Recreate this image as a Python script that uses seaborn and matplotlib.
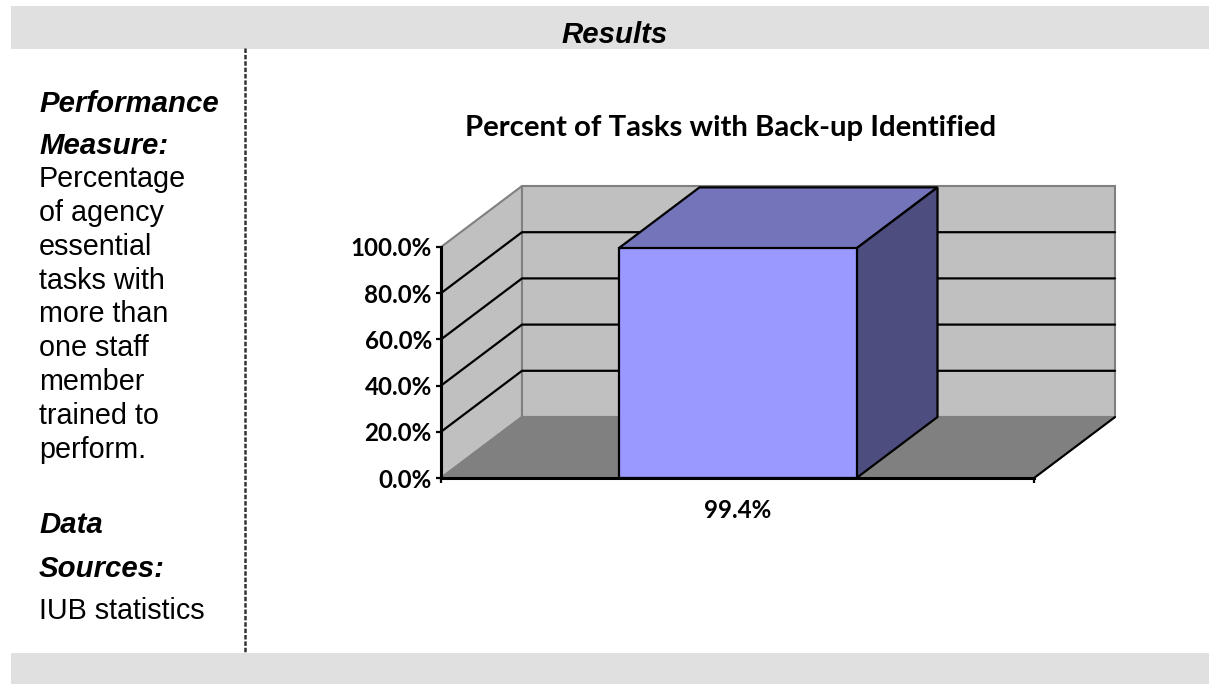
import numpy as np
import pandas as pd
import seaborn as sns
import matplotlib.pyplot as plt
from matplotlib.patches import Polygon, Rectangle
from matplotlib.lines import Line2D
from matplotlib.ticker import FixedLocator

# chart data
CATEGORIES = ["99.4%"]
VALUES = [99.4]
Y_TICKS = [0, 20, 40, 60, 80, 100]
CHART_TITLE = "Percent of Tasks with Back-up Identified"

# left column text: (text, baseline y in px, heading?)
SIDE_TEXT = [
    ("Performance", 112, True),
    ("Measure:", 154, True),
    ("Percentage", 187, False),
    ("of agency", 221, False),
    ("essential", 255, False),
    ("tasks with", 289, False),
    ("more than", 322, False),
    ("one staff", 356, False),
    ("member", 390, False),
    ("trained to", 424, False),
    ("perform.", 458, False),
    ("Data", 533, True),
    ("Sources:", 577, True),
    ("IUB statistics", 619, False),
]

W, H = 1209, 684
BAND = "#e0e0e0"
WALL = "#c0c0c0"
FLOOR = "#808080"
BAR_FRONT = "#9999ff"
BAR_TOP = "#7474ba"
BAR_SIDE = "#4d4d80"

# fake 3D depth of the Excel-style chart, in data units
DEPTH_X = 81 / 593
DEPTH_Y = 61 / 231 * 100

sns.set_theme(style="white")
plt.rcParams["font.family"] = ["Liberation Sans", "DejaVu Sans"]

fig = plt.figure(figsize=(W / 100, H / 100), dpi=100, facecolor="white")

# page furniture: header and footer bands, dashed divider
fig.add_artist(Rectangle((11 / W, 1 - 49 / H), 1 - 11 / W, 43 / H, transform=fig.transFigure,
                         fc=BAND, ec="none"))
fig.add_artist(Rectangle((11 / W, 0), 1 - 11 / W, 31 / H, transform=fig.transFigure,
                         fc=BAND, ec="none"))
fig.add_artist(Line2D([245 / W, 245 / W], [1 - 48 / H, 1 - 653 / H], transform=fig.transFigure,
                      color="#333333", lw=1.8, dashes=(1.8, 0.75)))

fig.text(615 / W, 1 - 43 / H, "Results", ha="center", va="baseline", fontsize=21.2,
         fontweight="bold", fontstyle="italic", color="black")

for txt, y, heading in SIDE_TEXT:
    fig.text(39 / W, 1 - y / H, txt, ha="left", va="baseline", color="black",
             fontsize=21.2 if heading else 20.7,
             fontweight="bold" if heading else "normal",
             fontstyle="italic" if heading else "normal")

fig.text(730.5 / W, 1 - 136 / H, CHART_TITLE, ha="center", va="baseline", fontsize=21.2,
         fontweight="bold", family=["Lato", "DejaVu Sans"], color="black")

# front plane of the plot
ax = fig.add_axes([441 / W, 1 - 478 / H, 593 / W, 231 / H])
df = pd.DataFrame({"label": CATEGORIES, "value": VALUES})
sns.barplot(data=df, x="label", y="value", ax=ax, color=BAR_FRONT, saturation=1, width=238 / 593,
            edgecolor="black", linewidth=1.6, zorder=5)
ax.set_xlim(-0.5, 0.5)
ax.set_ylim(0, 100)
ax.set_xlabel("")
ax.set_ylabel("")
ax.patch.set_alpha(0)

x0, x1 = ax.get_xlim()
dx, dy = DEPTH_X, DEPTH_Y

# walls and floor
left_wall = [(x0, 0), (x0 + dx, dy), (x0 + dx, 100 + dy), (x0, 100)]
back_wall = [(x0 + dx, dy), (x1 + dx, dy), (x1 + dx, 100 + dy), (x0 + dx, 100 + dy)]
floor = [(x0, 0), (x1, 0), (x1 + dx, dy), (x0 + dx, dy)]
for pts, fc, z in [(left_wall, WALL, 1), (back_wall, WALL, 1), (floor, FLOOR, 1.5)]:
    ax.add_patch(Polygon(pts, closed=True, fc=fc, ec=FLOOR, lw=1.5, zorder=z, clip_on=False))
ax.plot([x1, x1 + dx], [0, dy], color="black", lw=1.5, zorder=2, clip_on=False)

# gridlines run along the left wall and then the back wall
for v in Y_TICKS[1:-1]:
    ax.plot([x0, x0 + dx, x1 + dx], [v, v + dy, v + dy], color="black", lw=1.6, zorder=2,
            clip_on=False)

# top and side faces of the bar
bar = ax.patches[0]
bx0, bx1 = bar.get_x(), bar.get_x() + bar.get_width()
top = bar.get_height()
bar.set_clip_on(False)
ax.add_patch(Polygon([(bx0, top), (bx1, top), (bx1 + dx, top + dy), (bx0 + dx, top + dy)],
                     closed=True, fc=BAR_TOP, ec="black", lw=1.6, zorder=4, clip_on=False))
ax.add_patch(Polygon([(bx1, 0), (bx1 + dx, dy), (bx1 + dx, top + dy), (bx1, top)],
                     closed=True, fc=BAR_SIDE, ec="black", lw=1.6, zorder=4, clip_on=False))

# axes: only bottom and left spines, Excel-like ticks
sns.despine(ax=ax)
for side in ["left", "bottom"]:
    ax.spines[side].set_color("black")
    ax.spines[side].set_linewidth(2.2)
    ax.spines[side].set_zorder(6)
ax.set_yticks(Y_TICKS)
ax.set_yticklabels([f"{v:.1f}%" for v in Y_TICKS])
ax.xaxis.set_minor_locator(FixedLocator([x0, x1]))
ax.tick_params(axis="y", length=3.6, width=1.6, color="black", left=True, pad=3)
ax.tick_params(axis="x", which="major", length=0, pad=15)
ax.tick_params(axis="x", which="minor", length=3.6, width=1.6, color="black", bottom=True)
for lab in ax.get_xticklabels() + ax.get_yticklabels():
    lab.set_family(["Lato", "DejaVu Sans"])
    lab.set_fontweight("bold")
    lab.set_fontsize(17.4)
    lab.set_color("black")

plt.savefig("out.png", dpi=100)
